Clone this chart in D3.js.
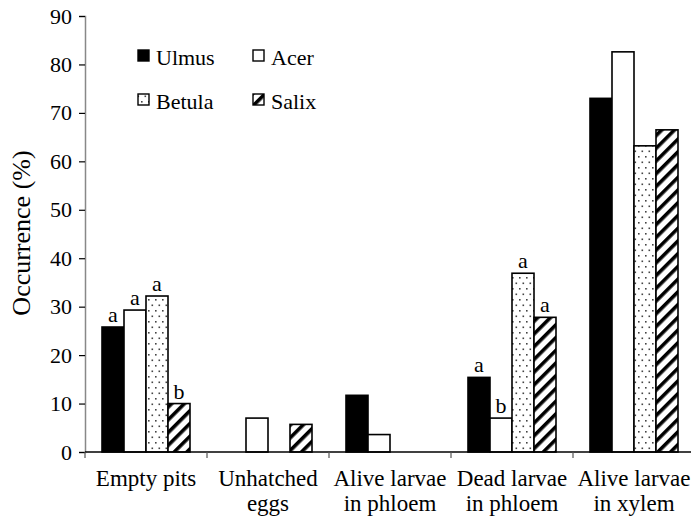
<!DOCTYPE html>
<html><head><meta charset="utf-8">
<script src="https://cdn.jsdelivr.net/npm/d3@7"></script>
<style>body{margin:0;background:#fff}svg{display:block}</style>
</head><body>
<script>
const categories = [["Empty pits"],["Unhatched","eggs"],["Alive larvae","in phloem"],["Dead larvae","in phloem"],["Alive larvae","in xylem"]];
const series = ["Ulmus","Acer","Betula","Salix"];
const ulmus  = [25.8, 0, 11.7, 15.4, 73.0];
const acer   = [29.3, 7.0, 3.6, 7.0, 82.6];
const betula = [32.2, 0, 0, 36.9, 63.2];
const salix  = [10.0, 5.7, 0, 27.8, 66.5];
const letters = [["a","a","a","b"],["","","",""],["","","",""],["a","b","a","a"],["","","",""]];
const yTicks = [0,10,20,30,40,50,60,70,80,90];
const values = [ulmus, acer, betula, salix];

const FONT="'Liberation Serif', 'Times New Roman', Times, serif";
const W=691,H=519;
const svg=d3.select("body").append("svg").attr("width",W).attr("height",H).style("font-family",FONT);
const defs=svg.append("defs");
const pd=defs.append("pattern").attr("id","dots").attr("patternUnits","userSpaceOnUse").attr("width",7).attr("height",11);
pd.append("rect").attr("width",7).attr("height",11).attr("fill","#fff");
pd.append("rect").attr("x",1).attr("y",2).attr("width",1.6).attr("height",1.6).attr("fill","#444");
pd.append("rect").attr("x",4.5).attr("y",7.5).attr("width",1.6).attr("height",1.6).attr("fill","#444");
const ps=defs.append("pattern").attr("id","stripes").attr("patternUnits","userSpaceOnUse").attr("width",9).attr("height",9).attr("patternTransform","rotate(45)");
ps.append("rect").attr("width",9).attr("height",9).attr("fill","#fff");
ps.append("rect").attr("x",0).attr("y",0).attr("width",3.6).attr("height",9).attr("fill","#000");
const fills={Ulmus:"#000",Acer:"#fff",Betula:"url(#dots)",Salix:"url(#stripes)"};

const mLeft=85,mRight=695,mTop=16,mBottom=452;
const x0=d3.scaleBand().domain(d3.range(categories.length)).range([mLeft,mRight]);
const x1=d3.scaleBand().domain(series).range([17,105]);
const y=d3.scaleLinear().domain([0,90]).range([mBottom,mTop]);

function txt(sel){return sel.style("font-family",FONT).attr("fill","#000");}

categories.forEach((c,i)=>{
  series.forEach((s,j)=>{
    const v=values[j][i];
    if(v>0){
      svg.append("rect").attr("x",x0(i)+x1(s)).attr("y",y(v)).attr("width",x1.bandwidth()).attr("height",y(0)-y(v))
        .attr("fill",fills[s]).attr("stroke","#000").attr("stroke-width",1.6);
    }
    const L=letters[i][j];
    if(L) txt(svg.append("text")).attr("x",x0(i)+x1(s)+x1.bandwidth()/2).attr("y",y(v)-5).attr("text-anchor","middle").style("font-size","22px").text(L);
  });
});

const ya=svg.append("g").attr("transform",`translate(${mLeft},0)`).call(d3.axisLeft(y).tickValues(yTicks).tickSize(6).tickPadding(7));
ya.attr("font-family",null).attr("font-size",null);
ya.select(".domain").attr("stroke","#888").attr("stroke-width",1.5);
ya.selectAll(".tick line").attr("stroke","#000").attr("stroke-width",1.2);
txt(ya.selectAll("text")).style("font-size","22px");

const xa=svg.append("g").attr("transform",`translate(0,${mBottom})`);
xa.append("line").attr("x1",mLeft).attr("x2",mRight).attr("stroke","#000").attr("stroke-width",1.5);
d3.range(categories.length+1).forEach(i=>{
  const xx=i<categories.length?x0(i):mRight;
  xa.append("line").attr("x1",xx).attr("x2",xx).attr("y1",0).attr("y2",6).attr("stroke","#555").attr("stroke-width",1.2);
});
categories.forEach((c,i)=>{
  const t=txt(xa.append("text")).attr("text-anchor","middle").style("font-size","23px");
  c.forEach((line,k)=>t.append("tspan").attr("x",x0(i)+x0.bandwidth()/2).attr("y",34+k*25).text(line));
});

txt(svg.append("text")).attr("transform",`translate(30,${(mTop+mBottom)/2-1}) rotate(-90)`).attr("text-anchor","middle").style("font-size","26px").text("Occurrence (%)");

const legPos=[[138,50],[253,50],[138,94],[253,94]];
series.forEach((s,j)=>{
  const [lx,ly]=legPos[j];
  svg.append("rect").attr("x",lx).attr("y",ly).attr("width",11).attr("height",11).attr("fill",fills[s]).attr("stroke","#000").attr("stroke-width",1.4);
  txt(svg.append("text")).attr("x",lx+18).attr("y",ly+15).style("font-size","22px").text(s);
});
</script>
</body></html>
